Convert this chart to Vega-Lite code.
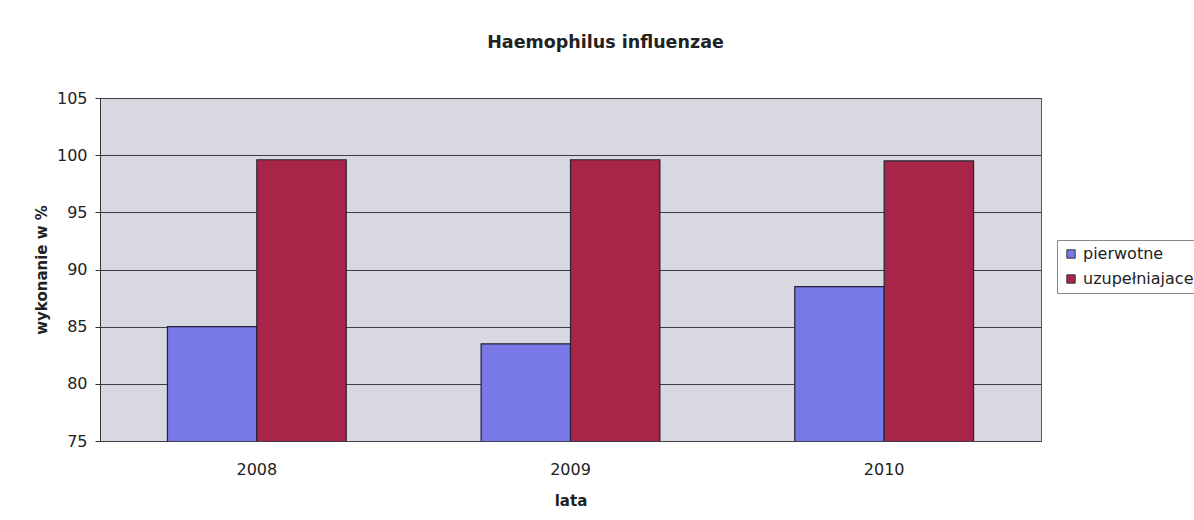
{
  "$schema": "https://vega.github.io/schema/vega-lite/v6.json",
  "width": 941,
  "height": 343,
  "autosize": {"type": "none"},
  "padding": {"left": 100, "top": 98, "right": 153, "bottom": 79},
  "background": "#ffffff",
  "title": {
    "text": "Haemophilus influenzae",
    "font": "DejaVu Sans",
    "fontSize": 17.5,
    "fontWeight": "bold",
    "color": "#222222",
    "anchor": "middle",
    "dx": 35,
    "offset": 39
  },
  "data": {
    "values": [
      {"rok": "2008", "seria": "pierwotne", "wartosc": 85.0},
      {"rok": "2008", "seria": "uzupełniajace", "wartosc": 99.6},
      {"rok": "2009", "seria": "pierwotne", "wartosc": 83.5},
      {"rok": "2009", "seria": "uzupełniajace", "wartosc": 99.6},
      {"rok": "2010", "seria": "pierwotne", "wartosc": 88.5},
      {"rok": "2010", "seria": "uzupełniajace", "wartosc": 99.5}
    ]
  },
  "mark": {"type": "bar", "stroke": "#23232f", "strokeWidth": 1.2, "clip": true},
  "encoding": {
    "x": {
      "field": "rok",
      "type": "nominal",
      "title": "lata",
      "scale": {"paddingInner": 0.43, "paddingOuter": 0.215},
      "axis": {
        "labelAngle": 0,
        "ticks": false,
        "tickSize": 0,
        "domain": false,
        "labelPadding": 20,
        "titlePadding": 16,
        "labelFont": "DejaVu Sans",
        "labelFontSize": 16,
        "labelColor": "#222222",
        "titleFont": "DejaVu Sans",
        "titleFontSize": 15,
        "titleFontWeight": "bold",
        "titleColor": "#222222"
      }
    },
    "xOffset": {"field": "seria", "type": "nominal", "scale": {"paddingInner": 0, "paddingOuter": 0}},
    "y": {
      "field": "wartosc",
      "type": "quantitative",
      "title": "wykonanie w %",
      "scale": {"domain": [75, 105], "zero": false, "nice": false},
      "axis": {
        "values": [75, 80, 85, 90, 95, 100, 105],
        "grid": true,
        "gridColor": "#3e3e48",
        "gridWidth": 1.2,
        "domainColor": "#333333",
        "tickColor": "#333333",
        "tickSize": 5,
        "labelPadding": 8,
        "titlePadding": 7,
        "labelFont": "DejaVu Sans",
        "labelFontSize": 16,
        "labelColor": "#222222",
        "titleFont": "DejaVu Sans",
        "titleFontSize": 15,
        "titleFontWeight": "bold",
        "titleColor": "#222222"
      }
    },
    "color": {
      "field": "seria",
      "type": "nominal",
      "title": null,
      "scale": {"domain": ["pierwotne", "uzupełniajace"], "range": ["#7878e6", "#a82448"]},
      "legend": {
        "orient": "none",
        "legendX": 957,
        "legendY": 142,
        "symbolType": "square",
        "symbolSize": 70,
        "symbolStrokeColor": "#333333",
        "symbolStrokeWidth": 1,
        "labelFont": "DejaVu Sans",
        "labelFontSize": 16,
        "labelColor": "#222222",
        "strokeColor": "#888888",
        "padding": 6,
        "rowPadding": 9,
        "fillColor": "#ffffff"
      }
    }
  },
  "config": {
    "view": {"fill": "#d8d8e0", "stroke": "#555560", "strokeWidth": 1}
  }
}
